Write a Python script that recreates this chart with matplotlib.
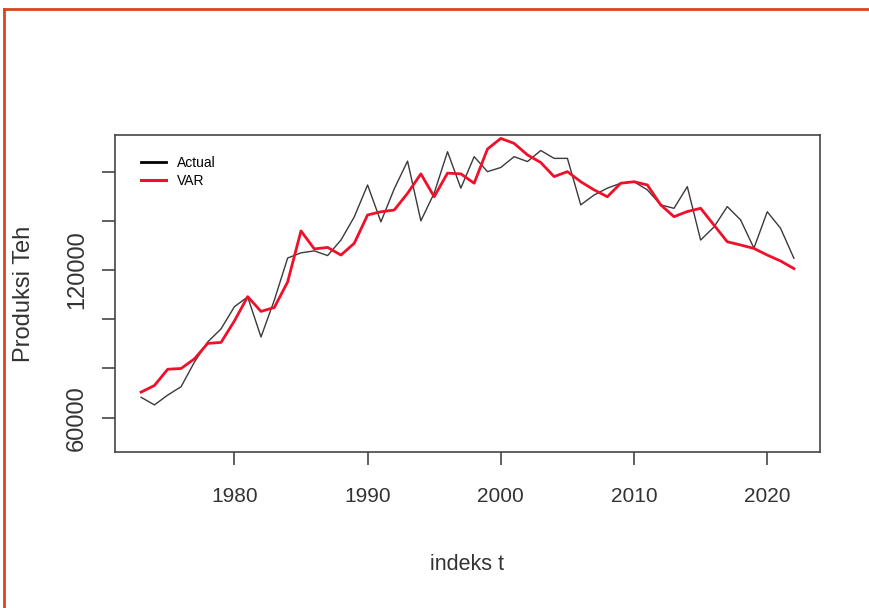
import numpy as np
import matplotlib
matplotlib.use('Agg')
import matplotlib.pyplot as plt
from matplotlib.lines import Line2D

plt.rcParams['font.family'] = ['Liberation Sans', 'DejaVu Sans']

# ── Data ──
years = np.arange(1973, 2023)

actual = [68300, 65200, 69200, 72600, 82600, 90800, 96100, 105100, 109100, 92800,
          107800, 124900, 127000, 127800, 125900, 132200, 141600, 154600, 139600, 153000,
          164300, 140000, 151300, 168100, 153300, 166100, 160000, 161700, 166100, 164100,
          168600, 165400, 165400, 146500, 150500, 153300, 155300, 155900, 152600, 146500,
          145100, 153900, 132200, 137500, 145800, 140400, 128900, 143700, 137000, 124800]

var_fit = [70400, 73100, 79700, 80000, 83900, 90200, 90600, 99300, 109200, 103200,
           104800, 115200, 135900, 128600, 129200, 126100, 130900, 142400, 143700, 144400,
           151200, 159100, 149800, 159400, 159100, 155300, 169200, 173500, 171500, 166800,
           163700, 158000, 160000, 155900, 152600, 149800, 155300, 155900, 154600, 146500,
           141700, 143800, 145100, 138300, 131500, 130200, 128800, 126100, 123700, 120600]

y_ticks = [60000, 80000, 100000, 120000, 140000, 160000]
y_tick_labels = ['60000', '', '', '120000', '', '']
x_ticks = [1980, 1990, 2000, 2010, 2020]

# ── Plot ──
fig = plt.figure(figsize=(8.69, 6.08), dpi=100)
ax = fig.add_axes([115/869, 1 - 452/608, 705/869, 317/608])

ax.plot(years, actual, color='#3a3a3a', lw=1.0)
ax.plot(years, var_fit, color='#f0102a', lw=2.0)

ax.set_xlim(1971.04, 2023.96)
ax.set_ylim(46060, 174900)

ax.set_xticks(x_ticks)
ax.set_xticklabels([str(x) for x in x_ticks], fontsize=15, color='#333333')
ax.set_yticks(y_ticks)
ax.set_yticklabels(y_tick_labels, fontsize=17, color='#333333', rotation=90, va='center')

for s in ax.spines.values():
    s.set_color('#454545')
    s.set_linewidth(1.2)
ax.tick_params(axis='both', direction='out', length=9.5, width=1.2, color='#454545')
ax.tick_params(axis='x', pad=16)
ax.tick_params(axis='y', pad=10)

ax.set_xlabel('indeks t', fontsize=15.5, color='#333333', va='center')
ax.xaxis.set_label_coords(0.5, -0.356)
ax.set_ylabel('Produksi Teh', fontsize=17, color='#333333', va='center')
ax.yaxis.set_label_coords(-0.129, 0.5)

handles = [Line2D([], [], color='black', lw=2.0), Line2D([], [], color='#f0102a', lw=2.2)]
ax.legend(handles, ['Actual', 'VAR'], loc='upper left', bbox_to_anchor=(0.037, 0.935),
          frameon=False, fontsize=10, handlelength=1.8, handletextpad=0.75,
          labelspacing=0.3, borderpad=0, borderaxespad=0)

# orange document frame
fig.add_artist(Line2D([3.5/869, 1], [1 - 9/608, 1 - 9/608], color='#d9441c', lw=2.0))
fig.add_artist(Line2D([3.5/869, 3.5/869], [0, 1 - 9/608], color='#d9441c', lw=2.0))

fig.savefig('out.png', dpi=100)
